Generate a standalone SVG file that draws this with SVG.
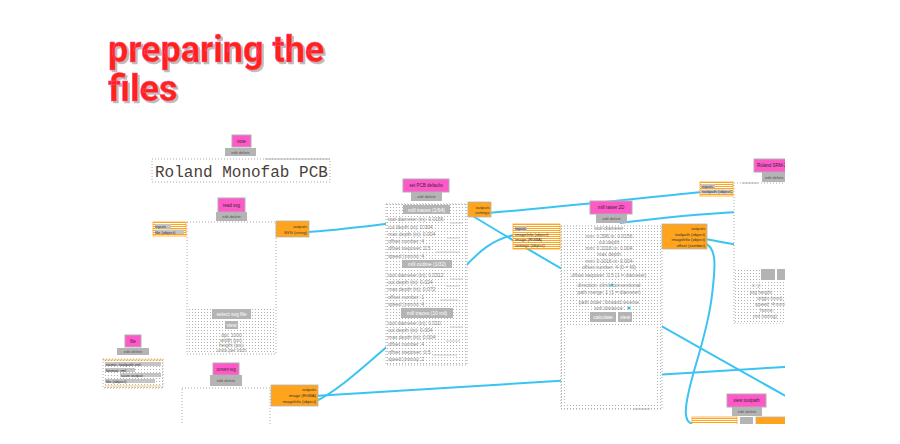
<svg xmlns="http://www.w3.org/2000/svg" width="900" height="444" viewBox="0 0 900 444">
<defs>
<pattern id="dots" width="3" height="3" patternUnits="userSpaceOnUse"><rect width="3" height="3" fill="#fff"/><rect width="1" height="1" fill="#b4b4b4"/></pattern>
<pattern id="hatch" width="2" height="2" patternUnits="userSpaceOnUse"><rect width="2" height="2" fill="#fff"/><rect width="2" height="1" fill="#ffa41c"/></pattern>
<clipPath id="view"><rect x="0" y="0" width="785" height="424"/></clipPath>
<filter id="sh" x="-5%" y="-10%" width="115%" height="130%"><feDropShadow dx="2" dy="2" stdDeviation="0" flood-color="#bcbcbc" flood-opacity="1"/></filter>
<style>
.pink{fill:#ff58c8;stroke:#b0b0b0;stroke-width:1}
.lbl{fill:#b4b4b4}
.out{fill:#ffa41c;stroke:#b4b4b4;stroke-width:0.8}
.inp{fill:url(#hatch);stroke:#ffa41c;stroke-width:0.8}
.pan{fill:#fff;stroke:#aaa;stroke-width:1;stroke-dasharray:1 2}
.dpan{fill:url(#dots);stroke:#aaa;stroke-width:1;stroke-dasharray:1 2}
.dfill{fill:url(#dots)}
.wire{fill:none;stroke:#3ac4f2;stroke-width:2}
.nm{font-family:"Liberation Sans",Arial,sans-serif;font-size:4.5px;fill:#2a2a2a;text-anchor:middle}
.gl{font-family:"Liberation Sans",Arial,sans-serif;font-size:4px;fill:#555;text-anchor:middle}
.io{font-family:"Liberation Sans",Arial,sans-serif;font-size:4.2px;fill:#333}
.ior{font-family:"Liberation Sans",Arial,sans-serif;font-size:4.2px;fill:#333;text-anchor:end}
.row{font-family:"Liberation Sans",Arial,sans-serif;font-size:5px;fill:#8a8a8a}
.rowc{font-family:"Liberation Sans",Arial,sans-serif;font-size:5px;fill:#8a8a8a;text-anchor:middle}
.btn{font-family:"Liberation Sans",Arial,sans-serif;font-size:5px;fill:#fff;text-anchor:middle}
.fld{stroke:#bdbdbd;stroke-width:0.8}
.title{font-family:Roboto,"Liberation Sans",sans-serif;font-weight:700;font-size:36px;fill:#ff2412;stroke:#ff4aa0;stroke-width:0.5}
</style>
</defs>
<rect width="900" height="444" fill="#fff"/>
<g clip-path="url(#view)">
<g id="title" filter="url(#sh)">
<text class="title" x="108" y="62">preparing the</text>
<text class="title" x="108" y="101">files</text>
</g>

<g id="connectors">
<path class="wire" d="M305,232 C330,231 360,227 392,223"/>
<path class="wire" d="M488,213 C560,207 640,198 703,192"/>
<path class="wire" d="M468,213 Q560,270 800,404"/>
<path class="wire" d="M462,270 C478,252 494,238 515,235"/>
<path class="wire" d="M314,396 L800,366"/>
<path class="wire" d="M314,402 C335,393 360,370 390,344"/>
<path class="wire" d="M620,223 C660,218 700,214 738,212"/>
<path class="wire" d="M704,239 C718,241 725,243 738,245"/>
<path class="wire" d="M704,243 C718,247 715,270 712,295 C707,340 688,380 686,408 C685,418 688,423 693,424"/>
</g>

<g id="note">
<rect class="pink" x="232" y="135" width="19" height="12"/>
<text class="nm" x="241.5" y="142.8">note</text>
<rect class="lbl" x="225" y="148" width="31" height="8"/>
<text class="gl" x="240.5" y="153.5">edit  delete</text>
<rect class="pan" x="152" y="159" width="178" height="23"/>
<line x1="265" y1="159" x2="330" y2="159" stroke="#b0b0b0" stroke-width="1"/>
<text x="155" y="177" font-family="Liberation Mono,'Courier New',monospace" font-size="16" fill="#4a4038">Roland Monofab PCB</text>
</g>

<g id="read-svg">
<rect class="pink" x="218" y="198" width="27" height="14"/>
<text class="nm" x="231.5" y="206.5">read svg</text>
<rect class="lbl" x="216" y="212" width="31" height="9"/>
<text class="gl" x="231.5" y="218">edit  delete</text>
<rect class="pan" x="187" y="222" width="89" height="132"/>
<rect class="dfill" x="188" y="309" width="87" height="44"/>
<rect class="lbl" x="212" y="309" width="39" height="10"/>
<text class="btn" x="231.5" y="315.8">select svg file</text>
<rect class="lbl" x="225" y="321" width="13" height="8"/>
<text class="btn" x="231.5" y="326.8">view</text>
<text class="rowc" x="231.5" y="337">dpi: 1000</text>
<text class="rowc" x="231.5" y="342">width (px):</text>
<text class="rowc" x="231.5" y="347">height (px):</text>
<text class="rowc" x="231.5" y="352">units per inch</text>
<rect class="inp" x="153" y="222" width="33" height="14"/>
<rect x="155" y="224" width="16" height="4.5" fill="#c4c4c4"/>
<text class="io" x="155" y="228">inputs</text>
<rect x="155" y="229.5" width="29" height="4.5" fill="#c4c4c4"/>
<text class="io" x="155" y="233.5">file (object)</text>
<rect class="out" x="276" y="221" width="33" height="16"/>
<text class="ior" x="307" y="227.5">outputs</text>
<text class="ior" x="307" y="233.5">SVG (string)</text>
</g>

<g id="save-file">
<rect class="pink" x="125" y="335" width="16" height="12"/>
<text class="nm" x="133" y="342.5">file</text>
<rect class="lbl" x="117" y="348" width="32" height="7"/>
<text class="gl" x="133" y="353">edit  delete</text>
<rect class="dpan" x="103" y="359" width="60" height="29"/>
<line x1="103" y1="360" x2="163" y2="360" stroke="#ffa41c" stroke-width="0.8"/>
<rect x="105" y="362" width="56" height="4" fill="#c4c4c4"/>
<text class="io" x="106" y="365.5">name: toolpath.rml</text>
<rect x="105" y="368" width="30" height="4" fill="#c4c4c4"/>
<text class="io" x="106" y="371.5">format: rml</text>
<rect x="120" y="373" width="41" height="4" fill="#c4c4c4"/>
<text class="io" x="121" y="376.5">save  output</text>
<rect x="105" y="379" width="50" height="4" fill="#c4c4c4"/>
<text class="io" x="106" y="382.5">file (object)</text>
<line x1="105" y1="386" x2="161" y2="386" stroke="#ffa41c" stroke-width="0.6"/>
</g>

<g id="convert-svg">
<rect class="pink" x="213" y="363" width="26" height="12"/>
<text class="nm" x="226" y="370.5" textLength="19" lengthAdjust="spacingAndGlyphs">convert svg</text>
<rect class="lbl" x="210" y="375" width="32" height="11"/>
<text class="gl" x="226" y="382">edit  delete</text>
<rect class="pan" x="182" y="388" width="88" height="60"/>
<rect class="out" x="271" y="385" width="47" height="21"/>
<text class="ior" x="316" y="391">outputs</text>
<text class="ior" x="316" y="397">image (RGBA)</text>
<text class="ior" x="316" y="403">imageInfo (object)</text>
</g>

<g id="set-pcb-defaults">
<rect class="pink" x="403" y="179" width="46" height="13"/>
<text class="nm" x="426" y="187">set PCB defaults</text>
<rect class="lbl" x="411" y="192" width="31" height="9"/>
<text class="gl" x="426.5" y="198">edit  delete</text>
<rect class="dpan" x="386" y="204" width="81" height="161"/>
<rect class="lbl" x="403" y="205" width="47" height="9"/>
<text class="btn" x="426.5" y="211.5">mill traces (1/64)</text>
<text class="row" x="388" y="221">tool diameter (in): 0.0156</text>
<text class="row" x="388" y="229">cut depth (in): 0.004</text>
<text class="row" x="388" y="236">max depth (in): 0.004</text>
<text class="row" x="388" y="243">offset number: 4</text>
<text class="row" x="388" y="250">offset stepover: 0.5</text>
<text class="row" x="388" y="258">speed (mm/s): 4</text>
<rect class="lbl" x="402" y="260" width="50" height="8"/>
<text class="btn" x="427" y="266">mill outline (1/32)</text>
<text class="row" x="388" y="277">tool diameter (in): 0.0312</text>
<text class="row" x="388" y="284">cut depth (in): 0.024</text>
<text class="row" x="388" y="291">max depth (in): 0.072</text>
<text class="row" x="388" y="299">offset number: 1</text>
<text class="row" x="388" y="306">speed (mm/s): 4</text>
<rect class="lbl" x="401" y="308" width="52" height="10"/>
<text class="btn" x="427" y="315">mill traces (10 mil)</text>
<text class="row" x="388" y="325">tool diameter (in): 0.010</text>
<text class="row" x="388" y="332">cut depth (in): 0.004</text>
<text class="row" x="388" y="339">max depth (in): 0.004</text>
<text class="row" x="388" y="346">offset number: 4</text>
<text class="row" x="388" y="354">offset stepover: 0.5</text>
<text class="row" x="388" y="361">speed (mm/s): 2</text>
<g class="fld">
<line x1="450" y1="223" x2="463" y2="223"/><line x1="447" y1="238" x2="460" y2="238"/><line x1="436" y1="252" x2="460" y2="252"/>
<line x1="450" y1="279" x2="463" y2="279"/><line x1="446" y1="286" x2="460" y2="286"/><line x1="440" y1="300" x2="458" y2="300"/>
<line x1="450" y1="327" x2="463" y2="327"/><line x1="446" y1="341" x2="460" y2="341"/><line x1="433" y1="355" x2="457" y2="355"/>
</g>
<rect class="out" x="468" y="202" width="23" height="15"/>
<text class="ior" x="489.5" y="208.5">outputs</text>
<text class="ior" x="489.5" y="214">settings</text>
</g>

<g id="mill-raster-2d">
<rect class="pink" x="590" y="201" width="42" height="13"/>
<text class="nm" x="611" y="209">mill raster 2D</text>
<rect class="lbl" x="596" y="214" width="31" height="9"/>
<text class="gl" x="611.5" y="220">edit  delete</text>
<rect class="dpan" x="561" y="226" width="101" height="183"/>
<rect x="567" y="325" width="88" height="80" fill="#fff"/>
<line x1="633" y1="409" x2="650" y2="409" stroke="#b0b0b0" stroke-width="1"/>
<text class="rowc" x="609" y="230">tool diameter</text>
<text class="rowc" x="609" y="238">mm: 0.396  in: 0.0156</text>
<text class="rowc" x="609" y="244">cut depth</text>
<text class="rowc" x="609" y="250">mm: 0.1016  in: 0.004</text>
<text class="rowc" x="609" y="256">max depth</text>
<text class="rowc" x="609" y="263">mm: 0.1016  in: 0.004</text>
<text class="rowc" x="609" y="269">offset number: 4  (0 = fill)</text>
<text class="rowc" x="609" y="277">offset stepover: 0.5  (1 = diameter)</text>
<text class="rowc" x="609" y="287">direction: climb    conventional</text>
<text class="rowc" x="609" y="294">path merge: 1  (1 = diameter)</text>
<text class="rowc" x="609" y="304">path order: forward    reverse</text>
<text class="rowc" x="609" y="310">sort distance:</text>
<circle cx="612" cy="285" r="1.5" fill="#3ab4e8"/>
<circle cx="629" cy="308" r="1.5" fill="#3ab4e8"/>
<rect class="lbl" x="590" y="312" width="26" height="10"/>
<text class="btn" x="603" y="319">calculate</text>
<rect class="lbl" x="618" y="312" width="14" height="10"/>
<text class="btn" x="625" y="319">view</text>
<rect class="inp" x="513" y="224" width="47" height="25"/>
<rect x="515" y="226.5" width="12" height="4" fill="#c4c4c4"/>
<text class="io" x="515" y="230">inputs</text>
<text class="io" x="515" y="235.5">imageInfo (object)</text>
<text class="io" x="515" y="241">image (RGBA)</text>
<text class="io" x="515" y="246.5">settings (object)</text>
<rect class="out" x="662" y="224" width="45" height="25"/>
<text class="ior" x="705" y="230">outputs</text>
<text class="ior" x="705" y="235.5">toolpath (object)</text>
<text class="ior" x="705" y="241">imageInfo (object)</text>
<text class="ior" x="705" y="246.5">offset (number)</text>
</g>

<g id="roland-srm-20">
<rect class="pink" x="754" y="159" width="60" height="13"/>
<text class="nm" x="757" y="167" style="text-anchor:start">Roland SRM-20 milling machine</text>
<rect class="lbl" x="762" y="172" width="40" height="10"/>
<text class="gl" x="765" y="178.5" style="text-anchor:start">edit  delete</text>
<rect class="pan" x="734" y="183" width="70" height="140"/>
<line x1="742" y1="183" x2="758" y2="183" stroke="#b0b0b0" stroke-width="1"/>
<rect class="dfill" x="735" y="268" width="60" height="55"/>
<rect class="lbl" x="761" y="269" width="14" height="11"/>
<rect class="lbl" x="777" y="269" width="14" height="11"/>
<text class="row" x="752" y="287">x:     y:</text>
<text class="row" x="750" y="294">jog height:</text>
<text class="row" x="757" y="300">origin (mm):</text>
<text class="row" x="755" y="306">speed: 4 mm/s</text>
<text class="row" x="760" y="312">home:</text>
<text class="row" x="753" y="318">rml (string)</text>
<rect class="inp" x="700" y="182" width="33" height="14"/>
<rect x="701" y="184" width="14" height="4" fill="#c4c4c4"/>
<text class="io" x="702" y="187.5">inputs</text>
<rect x="701" y="189.5" width="30" height="4" fill="#c4c4c4"/>
<text class="io" x="702" y="193">toolpath (object)</text>
</g>

<g id="view-toolpath">
<rect class="pink" x="727" y="394" width="39" height="13"/>
<text class="nm" x="746.5" y="402">view toolpath</text>
<rect class="lbl" x="732" y="407" width="30" height="9"/>
<text class="gl" x="747" y="413">edit  delete</text>
<rect class="inp" x="692" y="417" width="45" height="10"/>
<rect class="lbl" x="740" y="417" width="13" height="10"/>
<rect class="out" x="756" y="417" width="40" height="10"/>
</g>
</g>
</svg>
